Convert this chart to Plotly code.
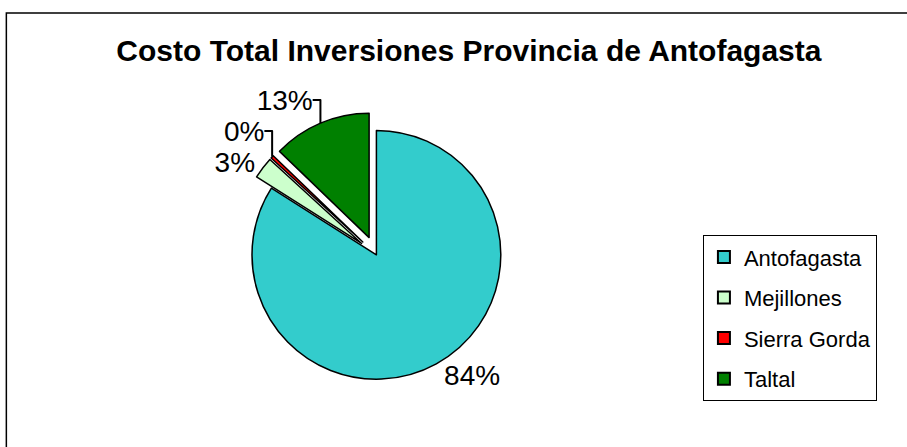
import plotly.graph_objects as go

labels = ["Antofagasta", "Mejillones", "Sierra Gorda", "Taltal"]
values = [84.0, 2.8, 0.4, 12.8]
colors = ["#33CCCC", "#CCFFCC", "#FF0000", "#008000"]
pulls = [0, 0.15, 0.15, 0.15]
title_text = "Costo Total Inversiones Provincia de Antofagasta"

FONT = "Liberation Sans, Arial, sans-serif"

fig = go.Figure()
fig.add_trace(go.Pie(
    labels=labels,
    values=values,
    sort=False,
    direction="clockwise",
    rotation=0,
    pull=pulls,
    marker=dict(colors=colors, line=dict(color="black", width=1.5)),
    texttemplate="%{percent:.0%}",
    textposition="outside",
    textfont=dict(family=FONT, size=28, color="black"),
    domain=dict(x=[0.24, 0.59], y=[0.11, 0.75]),
    hoverinfo="label+percent",
    showlegend=False,
))

# legend entries (one group per category so the spacing matches the original)
for lab, col in zip(labels, colors):
    fig.add_trace(go.Scatter(
        x=[None], y=[None], mode="markers", name=lab,
        legendgroup=lab,
        marker=dict(symbol="square", size=13, color=col, line=dict(color="black", width=1.5)),
        showlegend=True, hoverinfo="skip",
    ))

fig.update_layout(
    width=907,
    height=447,
    margin=dict(l=0, r=0, t=0, b=0),
    paper_bgcolor="white",
    plot_bgcolor="white",
    xaxis=dict(visible=False),
    yaxis=dict(visible=False),
    title=dict(
        text="<b>" + title_text + "</b>",
        x=0.517, xanchor="center",
        y=0.888, yanchor="middle",
        font=dict(family=FONT, size=30, color="black"),
    ),
    legend=dict(
        x=0.775, xanchor="left",
        y=0.474, yanchor="top",
        bordercolor="black", borderwidth=1,
        bgcolor="white",
        font=dict(family=FONT, size=22, color="black"),
        itemsizing="constant",
        tracegroupgap=9,
        itemwidth=30,
    ),
    shapes=[dict(
        type="rect", xref="paper", yref="paper",
        x0=0.007, x1=1.2, y0=-0.2, y1=0.971,
        line=dict(color="black", width=1.5),
        fillcolor="rgba(0,0,0,0)",
    )],
)

fig.write_html(
    "out.html",
    config={"displayModeBar": False},
    post_script="document.body.style.margin='0';document.body.style.overflow='hidden';",
)
